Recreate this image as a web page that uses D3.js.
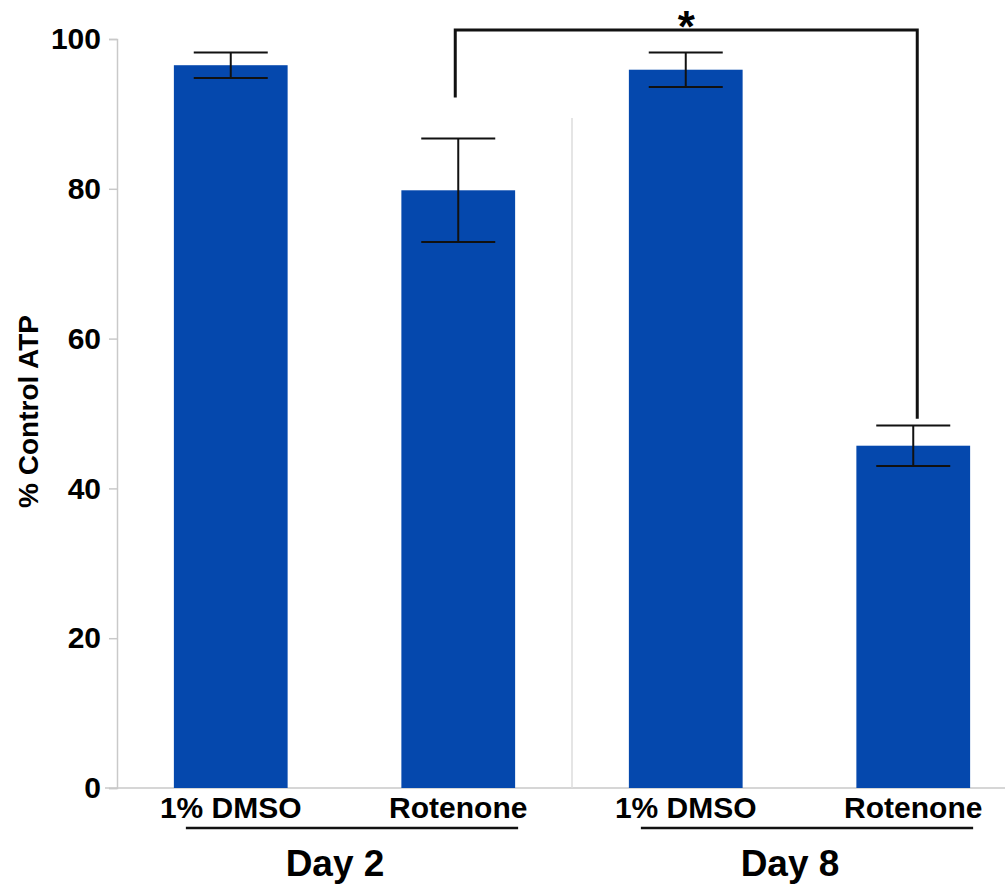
<!DOCTYPE html>
<html>
<head>
<meta charset="utf-8">
<script src="https://cdn.jsdelivr.net/npm/d3@7"></script>
<style>
  body { margin: 0; background: #fff; }
  text { font-family: Arial, "Liberation Sans", sans-serif; font-weight: bold; fill: #000; }
</style>
</head>
<body>
<svg id="chart" width="1005" height="888"></svg>
<script>
const labels = ["1% DMSO", "Rotenone", "1% DMSO", "Rotenone"];
const days = ["Day 2", "Day 8"];
const values = [96.5, 79.8, 95.9, 45.7];
const errors = [1.7, 6.9, 2.3, 2.7];
const yTicks = [0, 20, 40, 60, 80, 100];
// significance bracket between bar 2 and bar 4
const sigFrom = 1, sigTo = 3;
const sigTop = 101.2, sigLeftEnd = 92.2, sigRightEnd = 49.3;

const svg = d3.select("svg#chart");
const width = +svg.attr("width");
const height = +svg.attr("height");
const margin = { top: 39, right: -22, bottom: 100, left: 117 };

const x = d3
  .scaleBand()
  .domain(d3.range(values.length))
  .range([margin.left, width - margin.right])
  .paddingInner(0.5)
  .paddingOuter(0.25);

const y = d3
  .scaleLinear()
  .domain([0, 100])
  .range([height - margin.bottom, margin.top]);

const grey = "#c9c9c9";
const blue = "#0548ad";

// baseline
svg
  .append("line")
  .attr("x1", margin.left - 12)
  .attr("x2", width)
  .attr("y1", y(0))
  .attr("y2", y(0))
  .attr("stroke", grey)
  .attr("stroke-width", 1.5);

// divider between days
const divX = x(2) - (x.step() - x.bandwidth()) / 2;
svg
  .append("line")
  .attr("x1", divX)
  .attr("x2", divX)
  .attr("y1", y(0))
  .attr("y2", 118)
  .attr("stroke", "#dddddd")
  .attr("stroke-width", 1.5);

// y axis
const yAxis = svg
  .append("g")
  .attr("transform", `translate(${margin.left},0)`)
  .call(d3.axisLeft(y).tickValues(yTicks).tickSize(8).tickPadding(8));
yAxis.selectAll("path, line").attr("stroke", grey).attr("stroke-width", 1.5);
yAxis
  .selectAll("text")
  .style("font-size", "30px")
  .style("font-weight", "bold")
  .attr("fill", "#000")
  .attr("font-family", "Arial, 'Liberation Sans', sans-serif");

svg
  .append("text")
  .attr("transform", `translate(38,${y(50) - 2}) rotate(-90)`)
  .attr("text-anchor", "middle")
  .style("font-size", "28px")
  .text("% Control ATP");

// bars
svg
  .selectAll("rect.bar")
  .data(values)
  .join("rect")
  .attr("class", "bar")
  .attr("x", (d, i) => x(i))
  .attr("y", (d) => y(d))
  .attr("width", x.bandwidth())
  .attr("height", (d) => y(0) - y(d))
  .attr("fill", blue);

// error bars
const capHalf = 37;
values.forEach((v, i) => {
  const cx = x(i) + x.bandwidth() / 2;
  const g = svg.append("g").attr("stroke", "#111").attr("stroke-width", 2);
  g.append("line")
    .attr("x1", cx).attr("x2", cx)
    .attr("y1", y(v + errors[i])).attr("y2", y(v - errors[i]));
  [v + errors[i], v - errors[i]].forEach((e) => {
    g.append("line")
      .attr("x1", cx - capHalf).attr("x2", cx + capHalf)
      .attr("y1", y(e)).attr("y2", y(e));
  });
});

// category labels
svg
  .selectAll("text.cat")
  .data(labels)
  .join("text")
  .attr("class", "cat")
  .attr("x", (d, i) => x(i) + x.bandwidth() / 2)
  .attr("y", y(0) + 30)
  .attr("text-anchor", "middle")
  .style("font-size", "30px")
  .text((d) => d);

// day groups
days.forEach((d, k) => {
  const first = k * 2, last = k * 2 + 1;
  const x1 = x(first) + 12;
  const x2 = x(last) + x.bandwidth() + 3;
  svg
    .append("line")
    .attr("x1", x1).attr("x2", x2)
    .attr("y1", y(0) + 40).attr("y2", y(0) + 40)
    .attr("stroke", "#111")
    .attr("stroke-width", 2.5);
  svg
    .append("text")
    .attr("x", (x1 + x2) / 2 - 17)
    .attr("y", y(0) + 88)
    .attr("text-anchor", "middle")
    .style("font-size", "37px")
    .text(d);
});

// significance bracket
const sx1 = x(sigFrom) + x.bandwidth() / 2 - 3;
const sx2 = x(sigTo) + x.bandwidth() / 2 + 4;
svg
  .append("path")
  .attr("d", `M${sx1},${y(sigLeftEnd)}V${y(sigTop)}H${sx2}V${y(sigRightEnd)}`)
  .attr("fill", "none")
  .attr("stroke", "#111")
  .attr("stroke-width", 3);
svg
  .append("text")
  .attr("x", (sx1 + sx2) / 2)
  .attr("y", y(sigTop) + 12)
  .attr("text-anchor", "middle")
  .style("font-size", "44px")
  .text("*");
</script>
</body>
</html>
